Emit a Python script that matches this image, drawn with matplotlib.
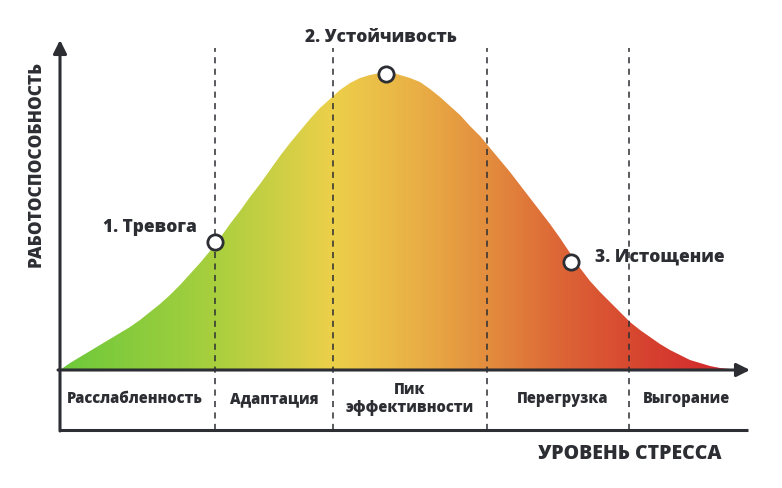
import matplotlib
matplotlib.use("Agg")
import matplotlib.pyplot as plt
import numpy as np
from matplotlib.colors import LinearSegmentedColormap

# curve: stress level vs performance
stress = [60, 70, 80, 90, 100, 110, 120, 130, 140, 150, 160, 170, 180, 190,
          200, 210, 220, 230, 240, 250, 260, 270, 280, 290, 300, 310, 320,
          330, 340, 350, 360, 370, 380, 390, 400, 410, 420, 430, 440, 450,
          460, 470, 480, 490, 500, 510, 520, 530, 540, 550, 560, 570, 580,
          590, 600, 610, 620, 630, 640, 650, 660, 670, 680, 690, 700, 710,
          720, 730, 740]
perf = [0, 7, 13, 19, 25, 31, 37, 43, 50, 58, 66, 75, 85, 96,
        107, 119, 132, 146, 159, 173, 186, 200, 214, 227, 239, 251, 262,
        271, 280, 287, 292, 295, 297, 298, 295, 292, 288, 281, 273, 264,
        255, 244, 234, 222, 210, 198, 185, 172, 159, 146, 132, 117, 102,
        89, 78, 68, 58, 48, 40, 33, 26, 20, 15, 10, 7, 4,
        2, 1, 0]

# stage points on the curve
stage_x = [215, 386, 571]
stage_y = [128, 296, 108]
stage_labels = ["1. Тревога", "2. Устойчивость", "3. Истощение"]

# zones along the stress axis
zone_edges = [215, 333, 487, 629]
zone_centers = [135, 274, 410, 563, 686]
zone_labels = ["Расслабленность", "Адаптация", "Пик\nэффективности",
               "Перегрузка", "Выгорание"]

dark = "#2c2e33"
font = ["Open Sans", "DejaVu Sans"]

fig = plt.figure(figsize=(7.82, 4.88), dpi=100)
ax = fig.add_axes([0, 0, 1, 1])
ax.set_xlim(0, 782)
ax.set_ylim(-118, 370)
ax.axis("off")

# gradient fill under the curve
cmap = LinearSegmentedColormap.from_list("stress", [
    (0.0, "#6cc93b"), (0.23, "#a9cf3e"), (0.40, "#edd04a"),
    (0.53, "#e9ae45"), (0.63, "#e38d3e"), (0.75, "#dc6135"),
    (0.87, "#d6412f"), (1.0, "#d2222d")])
poly = ax.fill_between(stress, 0, perf, facecolor="none", edgecolor="none")
grad = np.linspace(0, 1, 256).reshape(1, -1)
im = ax.imshow(grad, cmap=cmap, aspect="auto", extent=[60, 740, 0, 300],
               origin="lower", zorder=1)
im.set_clip_path(poly.get_paths()[0], transform=ax.transData)

# dashed zone separators
ax.vlines(zone_edges, -60, 322, colors=dark, lw=1.1, linestyles=(0, (4, 3.5)), zorder=2)

# axes with arrows
ax.annotate("", xy=(750, 0), xytext=(58, 0),
            arrowprops=dict(arrowstyle="-|>", lw=2.2, color=dark, mutation_scale=20,
                            shrinkA=0, shrinkB=0), zorder=3)
ax.annotate("", xy=(60, 330), xytext=(60, -61),
            arrowprops=dict(arrowstyle="-|>", lw=2.2, color=dark, mutation_scale=20,
                            shrinkA=0, shrinkB=0), zorder=3)
ax.plot([59, 748], [-60, -60], color=dark, lw=2.2, solid_capstyle="butt", zorder=3)

# stage markers
ax.plot(stage_x, stage_y, "o", ms=11, mfc="white", mec=dark, mew=2, zorder=4)
ax.text(150, 143, stage_labels[0], ha="center", va="center", fontsize=12.5,
        fontweight=800, color=dark, family=font)
ax.text(381, 332, stage_labels[1], ha="center", va="center", fontsize=12.5,
        fontweight=800, color=dark, family=font)
ax.text(660, 113, stage_labels[2], ha="center", va="center", fontsize=12.5,
        fontweight=800, color=dark, family=font)

# zone labels
for xc, lab in zip(zone_centers, zone_labels):
    ax.text(xc, -29, lab, ha="center", va="center", fontsize=10.5, fontweight=800,
            color=dark, family=font, linespacing=1.25)

# axis titles
ax.text(36, 206, "РАБОТОСПОСОБНОСТЬ", rotation=90, ha="center", va="center",
        fontsize=12.5, fontweight=800, color=dark, family=font)
ax.text(630, -84, "УРОВЕНЬ СТРЕССА", ha="center", va="center",
        fontsize=14, fontweight=800, color=dark, family=font)

fig.savefig("out.png", dpi=100)
